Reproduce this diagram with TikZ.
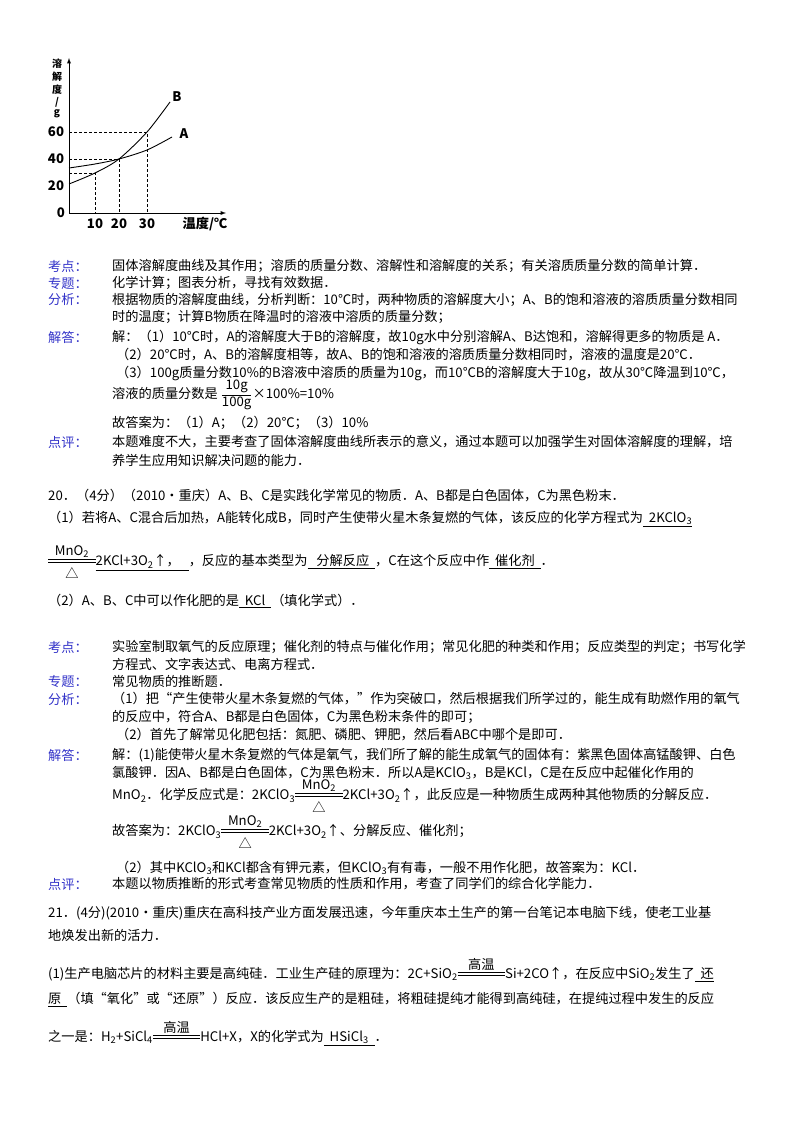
\documentclass[tikz,border=0pt]{standalone}
\usepackage{amsmath}
\usepackage{fontspec}
\setmainfont{Noto Sans CJK SC}
\usepackage{tikz}
\definecolor{labelblue}{RGB}{50,50,200}
\newcommand{\txt}{\fontsize{13.2}{15}\selectfont}
\newcommand{\sm}{\fontsize{10}{12}\selectfont}
\newcommand{\sub}[1]{\textsubscript{#1}}
\newcommand{\dbar}{\rlap{\rule[0.22em]{3.6em}{0.7pt}}\rule[0.42em]{3.6em}{0.7pt}}
\newcommand{\eqsign}[2]{\ensuremath{\mathrel{\underset{\text{\txt #2}}{\overset{\text{\txt #1}}{\text{\dbar}}}}}}
\tikzset{>=latex}
\tikzset{
  lbl/.style={anchor=west,text=labelblue,font=\txt,inner sep=0},
  body/.style={anchor=west,font=\txt,inner sep=0},
  tick/.style={font=\txt\bfseries,inner sep=1pt},
  guide/.style={densely dashed,line width=0.6}
}
\begin{document}
\begin{tikzpicture}[x=1pt,y=-1pt]
\useasboundingbox (0,0) rectangle (800,1132);

% solubility graph
\draw[->,line width=0.9] (69,213)--(226,213);
\draw[->,line width=0.9] (69,213)--(69,58);
\node[tick,anchor=north,font=\sm\bfseries] (ylab) at (57,58) {\shortstack{溶\\解\\度\\/\\g}};
\node[tick] (y0) at (61,213) {0};
\node[tick] (y20) at (56,186) {20};
\node[tick] (y40) at (56,159) {40};
\node[tick] (y60) at (56,132) {60};
\node[tick] (x10) at (95,224) {10};
\node[tick] (x20) at (119,224) {20};
\node[tick] (x30) at (147,224) {30};
\node[tick] (xlab) at (205,224) {温度/℃};
\draw[guide] (69,132)--(147,132)--(147,213);
\draw[guide] (69,159)--(119,159)--(119,213);
\draw[guide] (69,173)--(95,173)--(95,213);
\draw[line width=0.9] plot[smooth] coordinates {(69,184) (95,173) (119,159) (147,132) (170,102)};
\draw[line width=0.9] plot[smooth] coordinates {(69,168) (95,164) (119,159) (147,150) (172,137)};
\node[tick] (cB) at (177,97) {B};
\node[tick] (cA) at (184,134) {A};

% analysis of question 19
\node[lbl] (k1) at (48,266) {考点：};
\node[body] (k1t) at (112,266) {固体溶解度曲线及其作用；溶质的质量分数、溶解性和溶解度的关系；有关溶质质量分数的简单计算．};
\node[lbl] (z1) at (48,283) {专题：};
\node[body] (z1t) at (112,283) {化学计算；图表分析，寻找有效数据．};
\node[lbl] (f1) at (48,300) {分析：};
\node[body] (f1a) at (112,300) {根据物质的溶解度曲线，分析判断：10℃时，两种物质的溶解度大小；A、B的饱和溶液的溶质质量分数相同};
\node[body] (f1b) at (112,317) {时的温度；计算B物质在降温时的溶液中溶质的质量分数；};
\node[lbl] (j1) at (48,337) {解答：};
\node[body] (j1a) at (112,337) {解：（1）10℃时，A的溶解度大于B的溶解度，故10g水中分别溶解A、B达饱和，溶解得更多的物质是 A．};
\node[body] (j1b) at (116,355) {（2）20℃时，A、B的溶解度相等，故A、B的饱和溶液的溶质质量分数相同时，溶液的温度是20℃．};
\node[body] (j1c) at (116,373) {（3）100g质量分数10\%的B溶液中溶质的质量为10g，而10℃B的溶解度大于10g，故从30℃降温到10℃，};
\node[body] (j1d) at (112,395) {溶液的质量分数是 $\displaystyle\frac{\text{10g}}{\text{100g}}$×100\%=10\%};
\node[body] (j1e) at (112,423) {故答案为：（1）A；（2）20℃；（3）10\%};
\node[lbl] (d1) at (48,442) {点评：};
\node[body] (d1a) at (112,442) {本题难度不大，主要考查了固体溶解度曲线所表示的意义，通过本题可以加强学生对固体溶解度的理解，培};
\node[body] (d1b) at (112,460) {养学生应用知识解决问题的能力．};

% question 20
\node[body] (q20) at (48,496) {20．（4分）（2010•重庆）A、B、C是实践化学常见的物质．A、B都是白色固体，C为黑色粉末．};
\node[body] (q20a) at (48,519) {（1）若将A、C混合后加热，A能转化成B，同时产生使带火星木条复燃的气体，该反应的化学方程式为\underline{\ \ 2KClO\sub{3}}};
\node[body] (q20b) at (48,562) {\eqsign{MnO\sub{2}}{△}\underline{2KCl+3O\sub{2}↑，\ \ \ }，反应的基本类型为\underline{\ \ \ 分解反应\ \ }，C在这个反应中作\underline{\ \ 催化剂\ \ }．};
\node[body] (q20c) at (48,601) {（2）A、B、C中可以作化肥的是\underline{\ \ KCl\ \ }（填化学式）．};

\node[lbl] (k2) at (48,647) {考点：};
\node[body] (k2a) at (112,647) {实验室制取氧气的反应原理；催化剂的特点与催化作用；常见化肥的种类和作用；反应类型的判定；书写化学};
\node[body] (k2b) at (112,664) {方程式、文字表达式、电离方程式．};
\node[lbl] (z2) at (48,681) {专题：};
\node[body] (z2t) at (112,681) {常见物质的推断题．};
\node[lbl] (f2) at (48,699) {分析：};
\node[body] (f2a) at (112,699) {（1）把“产生使带火星木条复燃的气体，”作为突破口，然后根据我们所学过的，能生成有助燃作用的氧气};
\node[body] (f2b) at (112,717) {的反应中，符合A、B都是白色固体，C为黑色粉末条件的即可；};
\node[body] (f2c) at (116,735) {（2）首先了解常见化肥包括：氮肥、磷肥、钾肥，然后看ABC中哪个是即可．};
\node[lbl] (j2) at (48,755) {解答：};
\node[body] (j2a) at (112,755) {解：(1)能使带火星木条复燃的气体是氧气，我们所了解的能生成氧气的固体有：紫黑色固体高锰酸钾、白色};
\node[body] (j2b) at (112,773) {氯酸钾．因A、B都是白色固体，C为黑色粉末．所以A是KClO\sub{3}，B是KCl，C是在反应中起催化作用的};
\node[body] (j2c) at (112,796) {MnO\sub{2}．化学反应式是：2KClO\sub{3}\eqsign{MnO\sub{2}}{△}2KCl+3O\sub{2}↑，此反应是一种物质生成两种其他物质的分解反应．};
\node[body] (j2d) at (112,832) {故答案为：2KClO\sub{3}\eqsign{MnO\sub{2}}{△}2KCl+3O\sub{2}↑、分解反应、催化剂；};
\node[body] (j2e) at (116,868) {（2）其中KClO\sub{3}和KCl都含有钾元素，但KClO\sub{3}有有毒，一般不用作化肥，故答案为：KCl．};
\node[lbl] (d2) at (48,884) {点评：};
\node[body] (d2a) at (112,884) {本题以物质推断的形式考查常见物质的性质和作用，考查了同学们的综合化学能力．};

% question 21
\node[body] (q21) at (48,913) {21．(4分)(2010•重庆)重庆在高科技产业方面发展迅速，今年重庆本土生产的第一台笔记本电脑下线，使老工业基};
\node[body] (q21a) at (48,935) {地焕发出新的活力．};
\node[body] (q21b) at (48,972) {(1)生产电脑芯片的材料主要是高纯硅．工业生产硅的原理为：2C+SiO\sub{2}\eqsign{高温}{}Si+2CO↑，在反应中SiO\sub{2}发生了\underline{\ \ 还}};
\node[body] (q21c) at (48,1000) {\underline{原\ \ }（填“氧化”或“还原”）反应．该反应生产的是粗硅，将粗硅提纯才能得到高纯硅，在提纯过程中发生的反应};
\node[body] (q21d) at (48,1035) {之一是：H\sub{2}+SiCl\sub{4}\eqsign{高温}{}HCl+X，X的化学式为\underline{\ \ HSiCl\sub{3}\ \ }．};
\end{tikzpicture}
\end{document}
